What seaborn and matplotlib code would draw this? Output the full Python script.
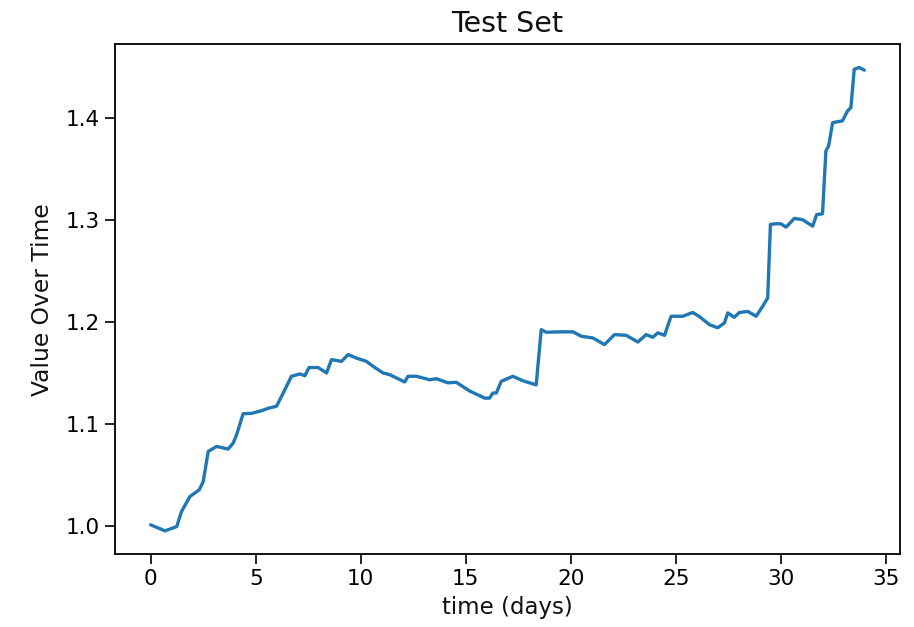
import matplotlib
matplotlib.use("Agg")
import matplotlib.pyplot as plt
import seaborn as sns
import pandas as pd

sns.set_style("ticks")
plt.rcParams["font.family"] = ["DejaVu Sans"]
plt.rcParams["axes.edgecolor"] = "black"
plt.rcParams["xtick.color"] = "black"
plt.rcParams["ytick.color"] = "black"
plt.rcParams["text.color"] = "#111111"
plt.rcParams["axes.labelcolor"] = "#111111"

# values
days = [
    0.00, 0.68, 1.24, 1.47, 1.87, 2.31, 2.50, 2.74, 3.14, 3.69,
    3.93, 4.09, 4.40, 4.80, 5.28, 5.59, 5.99, 6.31, 6.70, 7.10,
    7.34, 7.54, 7.97, 8.37, 8.61, 9.08, 9.40, 9.79, 10.27, 10.60,
    11.06, 11.38, 12.09, 12.25, 12.65, 13.28, 13.60, 14.15, 14.55, 15.18,
    15.90, 16.13, 16.29, 16.45, 16.69, 17.24, 17.72, 18.35, 18.59, 18.83,
    19.46, 20.10, 20.50, 21.05, 21.60, 22.08, 22.63, 23.19, 23.58, 23.90,
    24.14, 24.46, 24.77, 25.33, 25.80, 26.12, 26.60, 26.99, 27.31, 27.47,
    27.78, 28.02, 28.42, 28.82, 29.13, 29.37, 29.50, 29.77, 30.00, 30.24,
    30.64, 31.03, 31.51, 31.70, 31.98, 32.14, 32.27, 32.46, 32.93, 33.17,
    33.33, 33.49, 33.73, 33.97,
]
values = [
    1.0007, 0.9948, 0.9990, 1.0138, 1.0285, 1.0350, 1.0430, 1.0727, 1.0776, 1.0750,
    1.0810, 1.0890, 1.1097, 1.1100, 1.1127, 1.1150, 1.1170, 1.1300, 1.1464, 1.1487,
    1.1470, 1.1550, 1.1550, 1.1497, 1.1628, 1.1610, 1.1677, 1.1643, 1.1610, 1.1560,
    1.1497, 1.1480, 1.1408, 1.1464, 1.1464, 1.1430, 1.1440, 1.1400, 1.1405, 1.1320,
    1.1250, 1.1250, 1.1300, 1.1300, 1.1415, 1.1464, 1.1420, 1.1380, 1.1922, 1.1896,
    1.1900, 1.1900, 1.1857, 1.1840, 1.1775, 1.1873, 1.1866, 1.1800, 1.1873, 1.1847,
    1.1890, 1.1866, 1.2053, 1.2053, 1.2090, 1.2050, 1.1970, 1.1940, 1.1987, 1.2086,
    1.2043, 1.2090, 1.2100, 1.2053, 1.2150, 1.2233, 1.2954, 1.2960, 1.2960, 1.2927,
    1.3013, 1.3000, 1.2937, 1.3050, 1.3058, 1.3674, 1.3723, 1.3952, 1.3970, 1.4067,
    1.4100, 1.4476, 1.4493, 1.4467,
]

df = pd.DataFrame({"time": days, "value": values})

fig = plt.figure(figsize=(9.14, 6.27), dpi=100)
ax = fig.add_axes([0.1258, 0.1164, 0.8589, 0.8129])

sns.lineplot(data=df, x="time", y="value", ax=ax, color="#1f77b4",
             linewidth=2.4, estimator=None, sort=False)

ax.set_title("Test Set", fontsize=20.5, pad=9)
ax.set_xlabel("time (days)", fontsize=16.5, labelpad=5)
ax.set_ylabel("Value Over Time", fontsize=16.8, labelpad=8)
ax.set_xticks([0, 5, 10, 15, 20, 25, 30, 35])
ax.set_yticks([1.0, 1.1, 1.2, 1.3, 1.4])
ax.tick_params(labelsize=15.5, length=7.5, width=1.2, direction="out")
for s in ax.spines.values():
    s.set_linewidth(1.3)
    s.set_visible(True)

fig.savefig("out.png", dpi=100)
